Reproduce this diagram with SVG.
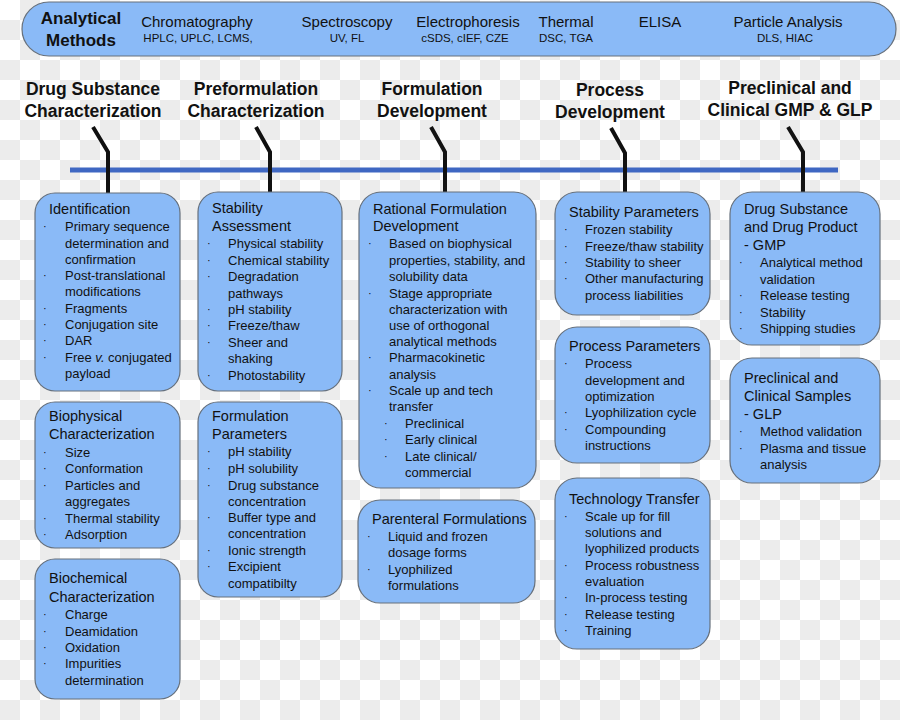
<svg xmlns="http://www.w3.org/2000/svg" width="900" height="720" viewBox="0 0 900 720">
<defs>
<pattern id="chk" x="0" y="0" width="40" height="40" patternUnits="userSpaceOnUse">
<rect width="40" height="40" fill="#ffffff"/>
<rect x="20" y="0" width="20" height="20" fill="#ececec"/>
<rect x="0" y="20" width="20" height="20" fill="#ececec"/>
</pattern>
</defs>
<style>
.box{fill:#8abaf7;stroke:#66707c;stroke-width:1.2}
text{font-family:"Liberation Sans",Arial,sans-serif;fill:#111}
.t{font-size:14.5px}
.i{font-size:13px}
.b{font-size:11px}
.h{font-size:17.5px;font-weight:bold;text-anchor:middle}
.am{font-size:17px;font-weight:bold;text-anchor:middle}
.m{font-size:15px;text-anchor:middle}
.s{font-size:11.5px;text-anchor:middle}
.conn{fill:none;stroke:#111;stroke-width:4;stroke-linejoin:miter}
.tl{stroke:#3f67c2;stroke-width:5}
</style>
<rect width="900" height="720" fill="url(#chk)"/>

<g id="analytical-methods">
<rect class="box" x="22" y="2" width="874" height="54" rx="27"/>
<text class="am" x="81" y="24">Analytical</text>
<text class="am" x="81" y="46">Methods</text>
<text class="m" x="197" y="27">Chromatography</text>
<text class="s" x="198" y="42">HPLC, UPLC, LCMS,</text>
<text class="m" x="347" y="27">Spectroscopy</text>
<text class="s" x="347" y="42">UV, FL</text>
<text class="m" x="468" y="27">Electrophoresis</text>
<text class="s" x="465" y="42">cSDS, cIEF, CZE</text>
<text class="m" x="566" y="27">Thermal</text>
<text class="s" x="566" y="42">DSC, TGA</text>
<text class="m" x="660" y="27">ELISA</text>
<text class="m" x="788" y="27">Particle Analysis</text>
<text class="s" x="785" y="42">DLS, HIAC</text>
</g>

<g id="headings">
<g id="h-drug-substance"><text class="h" x="93" y="95">Drug Substance</text><text class="h" x="93" y="117">Characterization</text></g>
<g id="h-preformulation"><text class="h" x="256" y="95">Preformulation</text><text class="h" x="256" y="117">Characterization</text></g>
<g id="h-formulation"><text class="h" x="432" y="95">Formulation</text><text class="h" x="432" y="117">Development</text></g>
<g id="h-process"><text class="h" x="610" y="96">Process</text><text class="h" x="610" y="118">Development</text></g>
<g id="h-preclinical"><text class="h" x="790" y="94">Preclinical and</text><text class="h" x="790" y="116">Clinical GMP &amp; GLP</text></g>
</g>

<g id="connectors">
<line class="tl" x1="70" y1="170" x2="838" y2="170"/>
<polyline class="conn" points="93,127 108,152 108,193"/>
<polyline class="conn" points="256,127 270,152 270,192"/>
<polyline class="conn" points="431,127 445,152 445,192"/>
<polyline class="conn" points="611,128 625,153 625,192"/>
<polyline class="conn" points="788,127 803,152 803,192"/>
</g>

<g id="identification">
<rect class="box" x="35" y="193" width="145" height="198" rx="20"/>
<text class="t" x="49" y="214">Identification</text>
<g class="b"><text x="43" y="230">·</text><text x="43" y="279">·</text><text x="43" y="312">·</text><text x="43" y="328">·</text><text x="43" y="344">·</text><text x="43" y="361">·</text></g>
<g class="i">
<text x="65" y="231">Primary sequence</text>
<text x="65" y="248">determination and</text>
<text x="65" y="264">confirmation</text>
<text x="65" y="280">Post-translational</text>
<text x="65" y="296">modifications</text>
<text x="65" y="313">Fragments</text>
<text x="65" y="329">Conjugation site</text>
<text x="65" y="345">DAR</text>
<text x="65" y="362">Free <tspan font-style="italic">v.</tspan> conjugated</text>
<text x="65" y="378">payload</text>
</g>
</g>

<g id="biophysical">
<rect class="box" x="35" y="402" width="145" height="146" rx="20"/>
<text class="t" x="49" y="421">Biophysical</text>
<text class="t" x="49" y="439">Characterization</text>
<g class="b"><text x="43" y="456">·</text><text x="43" y="472">·</text><text x="43" y="489">·</text><text x="43" y="522">·</text><text x="43" y="538">·</text></g>
<g class="i">
<text x="65" y="457">Size</text>
<text x="65" y="473">Conformation</text>
<text x="65" y="490">Particles and</text>
<text x="65" y="506">aggregates</text>
<text x="65" y="523">Thermal stability</text>
<text x="65" y="539">Adsorption</text>
</g>
</g>

<g id="biochemical">
<rect class="box" x="35" y="559" width="145" height="140" rx="20"/>
<text class="t" x="49" y="583">Biochemical</text>
<text class="t" x="49" y="602">Characterization</text>
<g class="b"><text x="43" y="618">·</text><text x="43" y="635">·</text><text x="43" y="651">·</text><text x="43" y="667">·</text></g>
<g class="i">
<text x="65" y="619">Charge</text>
<text x="65" y="636">Deamidation</text>
<text x="65" y="652">Oxidation</text>
<text x="65" y="668">Impurities</text>
<text x="65" y="685">determination</text>
</g>
</g>

<g id="stability-assessment">
<rect class="box" x="198" y="192" width="144" height="199" rx="20"/>
<text class="t" x="212" y="213">Stability</text>
<text class="t" x="212" y="231">Assessment</text>
<g class="b"><text x="207" y="247">·</text><text x="207" y="264">·</text><text x="207" y="280">·</text><text x="207" y="313">·</text><text x="207" y="329">·</text><text x="207" y="346">·</text><text x="207" y="379">·</text></g>
<g class="i">
<text x="228" y="248">Physical stability</text>
<text x="228" y="265">Chemical stability</text>
<text x="228" y="281">Degradation</text>
<text x="228" y="298">pathways</text>
<text x="228" y="314">pH stability</text>
<text x="228" y="330">Freeze/thaw</text>
<text x="228" y="347">Sheer and</text>
<text x="228" y="363">shaking</text>
<text x="228" y="380">Photostability</text>
</g>
</g>

<g id="formulation-parameters">
<rect class="box" x="198" y="402" width="144" height="195" rx="20"/>
<text class="t" x="212" y="421">Formulation</text>
<text class="t" x="212" y="439">Parameters</text>
<g class="b"><text x="207" y="455">·</text><text x="207" y="472">·</text><text x="207" y="489">·</text><text x="207" y="521">·</text><text x="207" y="554">·</text><text x="207" y="570">·</text></g>
<g class="i">
<text x="228" y="456">pH stability</text>
<text x="228" y="473">pH solubility</text>
<text x="228" y="490">Drug substance</text>
<text x="228" y="506">concentration</text>
<text x="228" y="522">Buffer type and</text>
<text x="228" y="538">concentration</text>
<text x="228" y="555">Ionic strength</text>
<text x="228" y="571">Excipient</text>
<text x="228" y="588">compatibilty</text>
</g>
</g>

<g id="rational-formulation">
<rect class="box" x="359" y="192" width="177" height="296" rx="22"/>
<text class="t" x="373" y="214">Rational Formulation</text>
<text class="t" x="373" y="231">Development</text>
<g class="b"><text x="368" y="247">·</text><text x="368" y="297">·</text><text x="368" y="361">·</text><text x="368" y="394">·</text><text x="384" y="427">·</text><text x="384" y="443">·</text><text x="384" y="460">·</text></g>
<g class="i">
<text x="389" y="248">Based on biophysical</text>
<text x="389" y="265">properties, stability, and</text>
<text x="389" y="281">solubility data</text>
<text x="389" y="298">Stage appropriate</text>
<text x="389" y="314">characterization with</text>
<text x="389" y="330">use of orthogonal</text>
<text x="389" y="346">analytical methods</text>
<text x="389" y="362">Pharmacokinetic</text>
<text x="389" y="379">analysis</text>
<text x="389" y="395">Scale up and tech</text>
<text x="389" y="411">transfer</text>
<text x="405" y="428">Preclinical</text>
<text x="405" y="444">Early clinical</text>
<text x="405" y="461">Late clinical/</text>
<text x="405" y="477">commercial</text>
</g>
</g>

<g id="parenteral-formulations">
<rect class="box" x="358" y="500" width="177" height="103" rx="22"/>
<text class="t" x="372" y="524">Parenteral Formulations</text>
<g class="b"><text x="367" y="540">·</text><text x="367" y="573">·</text></g>
<g class="i">
<text x="388" y="541">Liquid and frozen</text>
<text x="388" y="557">dosage forms</text>
<text x="388" y="574">Lyophilized</text>
<text x="388" y="590">formulations</text>
</g>
</g>

<g id="stability-parameters">
<rect class="box" x="555" y="192" width="155" height="123" rx="22"/>
<text class="t" x="569" y="217">Stability Parameters</text>
<g class="b"><text x="564" y="233">·</text><text x="564" y="250">·</text><text x="564" y="266">·</text><text x="564" y="282">·</text></g>
<g class="i">
<text x="585" y="234">Frozen stability</text>
<text x="585" y="251">Freeze/thaw stability</text>
<text x="585" y="267">Stability to sheer</text>
<text x="585" y="283">Other manufacturing</text>
<text x="585" y="300">process liabilities</text>
</g>
</g>

<g id="process-parameters">
<rect class="box" x="555" y="327" width="155" height="136" rx="22"/>
<text class="t" x="569" y="351">Process Parameters</text>
<g class="b"><text x="564" y="367">·</text><text x="564" y="416">·</text><text x="564" y="433">·</text></g>
<g class="i">
<text x="585" y="368">Process</text>
<text x="585" y="385">development and</text>
<text x="585" y="401">optimization</text>
<text x="585" y="417">Lyophilization cycle</text>
<text x="585" y="434">Compounding</text>
<text x="585" y="450">instructions</text>
</g>
</g>

<g id="technology-transfer">
<rect class="box" x="555" y="478" width="155" height="171" rx="22"/>
<text class="t" x="569" y="504">Technology Transfer</text>
<g class="b"><text x="564" y="520">·</text><text x="564" y="569">·</text><text x="564" y="601">·</text><text x="564" y="618">·</text><text x="564" y="634">·</text></g>
<g class="i">
<text x="585" y="521">Scale up for fill</text>
<text x="585" y="537">solutions and</text>
<text x="585" y="553">lyophilized products</text>
<text x="585" y="570">Process robustness</text>
<text x="585" y="586">evaluation</text>
<text x="585" y="602">In-process testing</text>
<text x="585" y="619">Release testing</text>
<text x="585" y="635">Training</text>
</g>
</g>

<g id="gmp">
<rect class="box" x="730" y="192" width="150" height="153" rx="22"/>
<text class="t" x="744" y="214">Drug Substance</text>
<text class="t" x="744" y="232">and Drug Product</text>
<text class="t" x="744" y="250">- GMP</text>
<g class="b"><text x="739" y="266">·</text><text x="739" y="299">·</text><text x="739" y="316">·</text><text x="739" y="332">·</text></g>
<g class="i">
<text x="760" y="267">Analytical method</text>
<text x="760" y="284">validation</text>
<text x="760" y="300">Release testing</text>
<text x="760" y="317">Stability</text>
<text x="760" y="333">Shipping studies</text>
</g>
</g>

<g id="glp">
<rect class="box" x="730" y="358" width="150" height="125" rx="22"/>
<text class="t" x="744" y="383">Preclinical and</text>
<text class="t" x="744" y="401">Clinical Samples</text>
<text class="t" x="744" y="419">- GLP</text>
<g class="b"><text x="739" y="435">·</text><text x="739" y="452">·</text></g>
<g class="i">
<text x="760" y="436">Method validation</text>
<text x="760" y="453">Plasma and tissue</text>
<text x="760" y="469">analysis</text>
</g>
</g>
</svg>
